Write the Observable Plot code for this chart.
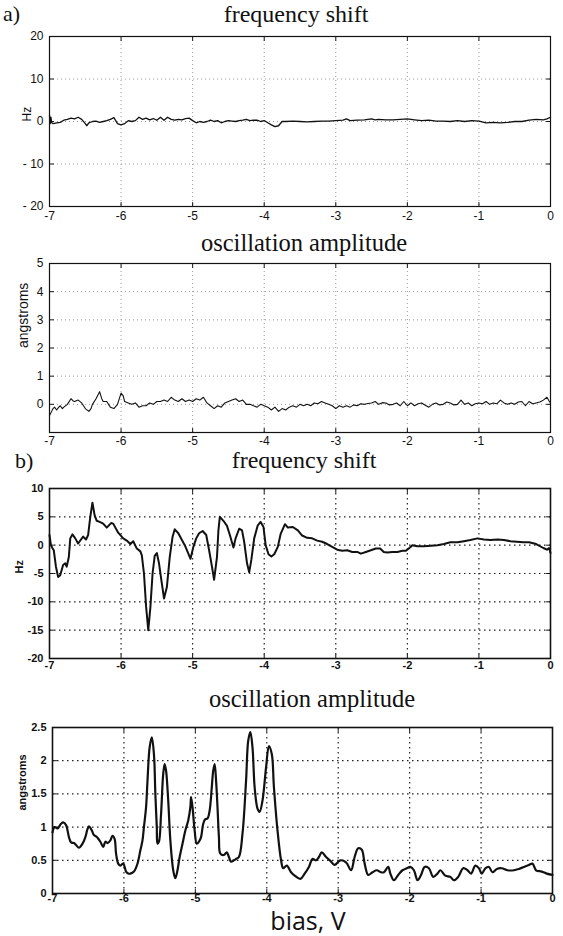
<!DOCTYPE html>
<html><head><meta charset="utf-8">
<script src="https://cdn.jsdelivr.net/npm/d3@7"></script>
<script src="https://cdn.jsdelivr.net/npm/@observablehq/plot@0.6"></script>
<style>
body{margin:0;background:#fff;}
#root{position:relative;width:563px;height:936px;overflow:hidden;background:#fff;}
.t{position:absolute;white-space:nowrap;color:#111;}
.p{position:absolute;left:0;}
.p svg{overflow:visible;}
</style></head><body><div id="root"></div>
<script>
// ---------- data ----------
const xTicks = [-7, -6, -5, -4, -3, -2, -1, 0];
const freqATicks = [-20, -10, 0, 10, 20];
const ampATicks = [0, 1, 2, 3, 4, 5];
const freqBTicks = [-20, -15, -10, -5, 0, 5, 10];
const ampBTicks = [0, 0.5, 1, 1.5, 2, 2.5];

// a) frequency shift (Hz) vs bias (V)
const freqA = [[-7,1.5],[-6.99,-0.5],[-6.98,1.0],[-6.97,-0.3],[-6.95,-0.5],[-6.9,-0.3],[-6.85,-0.2],[-6.8,0.3],[-6.75,0.5],[-6.7,0.8],[-6.65,0.6],[-6.6,1.0],[-6.55,0.5],[-6.5,-0.5],[-6.48,-1.0],[-6.45,-0.3],[-6.4,0],[-6.35,0.1],[-6.3,-0.2],[-6.25,0],[-6.2,0.2],[-6.15,0.5],[-6.1,0.9],[-6.05,-0.5],[-6,-0.8],[-5.95,-0.5],[-5.9,0.2],[-5.85,0],[-5.8,0.2],[-5.75,1.0],[-5.7,0.5],[-5.65,0.8],[-5.6,0.4],[-5.55,0.7],[-5.5,0.3],[-5.45,1.0],[-5.4,0.3],[-5.35,1.0],[-5.3,0.5],[-5.25,0.3],[-5.2,0.5],[-5.15,0.4],[-5.1,0.7],[-5.05,0.8],[-5,0.2],[-4.95,-0.3],[-4.9,0],[-4.85,-0.2],[-4.8,0],[-4.75,0.3],[-4.7,0],[-4.65,0.2],[-4.6,-0.3],[-4.55,0],[-4.5,0.2],[-4.45,0.1],[-4.4,0],[-4.35,0.2],[-4.3,0.3],[-4.25,0.5],[-4.2,0.2],[-4.15,0.3],[-4.1,0.3],[-4.05,0],[-4,0.2],[-3.95,-0.3],[-3.9,-0.8],[-3.85,-1.2],[-3.8,-1.0],[-3.75,0],[-3.7,0],[-3.6,0.1],[-3.5,0],[-3.4,-0.1],[-3.3,0],[-3.2,0.1],[-3.1,0.1],[-3,0.2],[-2.9,0.3],[-2.85,0.6],[-2.8,0.2],[-2.7,0.3],[-2.6,0.4],[-2.5,0.6],[-2.45,0.4],[-2.4,0.5],[-2.3,0.4],[-2.2,0.4],[-2.1,0.5],[-2,0.6],[-1.9,0.4],[-1.8,0.2],[-1.7,0.3],[-1.6,0.1],[-1.5,0.1],[-1.4,0],[-1.3,0.2],[-1.2,0],[-1.1,0.2],[-1,0.1],[-0.9,-0.3],[-0.8,-0.2],[-0.7,-0.3],[-0.6,-0.2],[-0.5,0],[-0.4,0],[-0.3,0.3],[-0.2,0.5],[-0.1,0.4],[-0.05,0.6],[0,1.0]];

// a) oscillation amplitude (angstroms) vs bias (V)
const ampA = [[-7,-0.4],[-6.97,-0.25],[-6.95,-0.15],[-6.93,-0.1],[-6.9,-0.2],[-6.87,-0.1],[-6.85,-0.05],[-6.82,-0.15],[-6.8,-0.1],[-6.75,0],[-6.7,0.2],[-6.67,0.12],[-6.65,0.1],[-6.6,0.15],[-6.55,0.05],[-6.5,-0.15],[-6.45,-0.25],[-6.42,-0.15],[-6.4,0],[-6.35,0.2],[-6.3,0.45],[-6.27,0.2],[-6.25,0.1],[-6.2,0.1],[-6.15,-0.1],[-6.1,-0.15],[-6.05,0],[-6,0.4],[-5.97,0.3],[-5.95,0.1],[-5.9,0.05],[-5.85,0],[-5.8,0.05],[-5.75,-0.1],[-5.7,-0.05],[-5.65,-0.05],[-5.6,0.05],[-5.55,0],[-5.5,0.1],[-5.45,0.1],[-5.4,0.15],[-5.35,0.1],[-5.3,0.25],[-5.25,0.15],[-5.2,0.1],[-5.15,0.2],[-5.1,0.1],[-5.05,0.15],[-5,0.1],[-4.95,0.2],[-4.9,0.15],[-4.85,0.25],[-4.8,0.05],[-4.75,-0.05],[-4.7,-0.15],[-4.65,-0.05],[-4.6,-0.1],[-4.55,0.05],[-4.5,0.1],[-4.45,0.15],[-4.4,0.2],[-4.35,0.1],[-4.3,0.15],[-4.25,0],[-4.2,0],[-4.15,-0.05],[-4.1,-0.1],[-4.05,0],[-4,-0.05],[-3.95,-0.1],[-3.9,-0.2],[-3.85,-0.1],[-3.8,-0.25],[-3.75,-0.15],[-3.7,-0.2],[-3.65,-0.1],[-3.6,-0.05],[-3.55,-0.1],[-3.5,0],[-3.45,-0.05],[-3.4,0],[-3.35,-0.05],[-3.3,0.05],[-3.25,0.02],[-3.2,0.1],[-3.15,0.05],[-3.1,0],[-3.05,-0.05],[-3,-0.15],[-2.95,-0.05],[-2.9,-0.1],[-2.85,-0.05],[-2.8,-0.1],[-2.75,-0.02],[-2.7,-0.05],[-2.65,0.02],[-2.6,0],[-2.55,0.03],[-2.5,0.05],[-2.45,0.1],[-2.4,0],[-2.35,0.06],[-2.3,0.05],[-2.25,-0.02],[-2.2,0],[-2.15,0.05],[-2.1,-0.05],[-2.05,0.1],[-2,-0.05],[-1.95,0.05],[-1.9,-0.05],[-1.85,0.02],[-1.8,0.05],[-1.75,-0.03],[-1.7,-0.1],[-1.65,0],[-1.6,0.05],[-1.55,-0.02],[-1.5,0],[-1.45,0.08],[-1.4,0.05],[-1.35,-0.02],[-1.3,0],[-1.25,0.15],[-1.2,0],[-1.15,0.05],[-1.1,-0.05],[-1.05,0.02],[-1,0.05],[-0.95,0.02],[-0.9,0.1],[-0.85,0],[-0.8,0.05],[-0.75,0.02],[-0.7,0.15],[-0.65,0.05],[-0.6,0],[-0.55,0.05],[-0.5,0],[-0.45,0.08],[-0.4,0.1],[-0.35,-0.05],[-0.3,0.1],[-0.25,0.02],[-0.2,0.05],[-0.15,0.08],[-0.1,0.15],[-0.05,0.25],[-0.02,0.12],[0,0.05]];

// b) frequency shift (Hz) vs bias (V)
const freqB = [[-7,1.8],[-6.98,0],[-6.96,-0.5],[-6.94,-0.9],[-6.91,-3.8],[-6.88,-5.6],[-6.85,-5.3],[-6.81,-3.5],[-6.78,-3.2],[-6.76,-3.8],[-6.73,-2.1],[-6.71,1.2],[-6.68,1.9],[-6.64,1.2],[-6.6,0.3],[-6.56,1.0],[-6.53,1.5],[-6.49,1.0],[-6.46,1.8],[-6.43,5.0],[-6.4,7.5],[-6.37,5.3],[-6.34,4.3],[-6.3,4.1],[-6.25,3.8],[-6.2,3.1],[-6.14,3.9],[-6.11,3.8],[-6.04,2.2],[-5.97,1.2],[-5.91,0.7],[-5.87,0.2],[-5.83,0.7],[-5.78,-0.6],[-5.73,-1.1],[-5.71,-1.8],[-5.68,-5],[-5.65,-10.9],[-5.62,-15],[-5.59,-10.9],[-5.56,-5],[-5.53,-1.9],[-5.5,-1.4],[-5.47,-3.2],[-5.43,-6.8],[-5.4,-9.4],[-5.36,-7.4],[-5.32,-2.1],[-5.28,1.5],[-5.25,2.8],[-5.2,2.1],[-5.15,0.9],[-5.11,0],[-5.06,-1.5],[-5.03,-2.4],[-4.99,-0.3],[-4.95,1.2],[-4.91,2.1],[-4.86,2.5],[-4.81,1.8],[-4.77,-0.9],[-4.73,-3.8],[-4.7,-6.1],[-4.66,-2.1],[-4.64,2.6],[-4.62,5.0],[-4.57,4.3],[-4.52,3.4],[-4.48,1.8],[-4.43,-0.4],[-4.4,1.2],[-4.35,2.9],[-4.31,2.6],[-4.28,0.6],[-4.24,-3.2],[-4.21,-4.8],[-4.18,-2.6],[-4.14,1.2],[-4.09,3.5],[-4.05,4.1],[-4.01,3.2],[-3.98,0],[-3.94,-1.6],[-3.9,-2.0],[-3.86,-1.6],[-3.81,-0.3],[-3.77,2.0],[-3.71,3.7],[-3.67,3.1],[-3.6,3.2],[-3.53,2.6],[-3.47,1.7],[-3.4,1.3],[-3.33,1.2],[-3.26,0.8],[-3.19,0.6],[-3.12,0.2],[-3.05,-0.3],[-2.98,-0.8],[-2.91,-1.0],[-2.84,-0.9],[-2.77,-1.2],[-2.7,-1.2],[-2.65,-1.5],[-2.58,-1.2],[-2.51,-0.9],[-2.44,-0.6],[-2.38,-0.6],[-2.33,-1.2],[-2.28,-1.3],[-2.21,-1.2],[-2.14,-1.2],[-2.07,-1.0],[-2.02,-1.0],[-1.98,-0.6],[-1.93,0],[-1.86,-0.2],[-1.77,-0.2],[-1.67,-0.1],[-1.58,0],[-1.49,0.2],[-1.4,0.5],[-1.3,0.5],[-1.21,0.7],[-1.12,0.9],[-1.02,1.2],[-0.93,1.0],[-0.84,0.9],[-0.74,1.0],[-0.65,0.9],[-0.56,0.7],[-0.47,0.6],[-0.38,0.5],[-0.3,0.5],[-0.2,0.2],[-0.1,-0.5],[-0.05,-0.8],[-0.02,-0.5],[0,-1.4]];

// b) oscillation amplitude (angstroms) vs bias (V)
const ampB = [[-7,0.92],[-6.97,1.0],[-6.93,0.98],[-6.88,1.05],[-6.85,1.07],[-6.81,1.03],[-6.77,0.85],[-6.74,0.77],[-6.7,0.76],[-6.67,0.73],[-6.63,0.69],[-6.58,0.75],[-6.54,0.85],[-6.51,0.97],[-6.49,1.01],[-6.45,0.95],[-6.42,0.88],[-6.39,0.86],[-6.37,0.84],[-6.33,0.78],[-6.29,0.7],[-6.26,0.78],[-6.23,0.76],[-6.19,0.8],[-6.16,0.87],[-6.13,0.82],[-6.11,0.6],[-6.08,0.45],[-6.05,0.42],[-6.01,0.45],[-5.97,0.33],[-5.94,0.3],[-5.91,0.3],[-5.86,0.33],[-5.81,0.45],[-5.77,0.65],[-5.74,0.8],[-5.72,1.0],[-5.69,1.3],[-5.67,1.7],[-5.64,2.2],[-5.61,2.35],[-5.58,2.1],[-5.56,1.5],[-5.54,1.0],[-5.53,0.75],[-5.51,0.78],[-5.48,1.2],[-5.45,1.8],[-5.43,1.95],[-5.41,1.85],[-5.38,1.4],[-5.35,0.8],[-5.31,0.35],[-5.28,0.23],[-5.25,0.35],[-5.22,0.55],[-5.18,0.75],[-5.14,0.95],[-5.1,1.1],[-5.07,1.3],[-5.06,1.45],[-5.04,1.3],[-5.01,0.95],[-4.98,0.75],[-4.95,0.78],[-4.92,0.85],[-4.89,1.05],[-4.86,1.12],[-4.83,1.13],[-4.8,1.25],[-4.77,1.6],[-4.75,1.85],[-4.73,1.95],[-4.71,1.7],[-4.69,1.3],[-4.67,0.85],[-4.65,0.6],[-4.6,0.58],[-4.56,0.62],[-4.53,0.55],[-4.5,0.48],[-4.46,0.5],[-4.43,0.52],[-4.39,0.55],[-4.34,0.9],[-4.29,1.7],[-4.26,2.3],[-4.23,2.43],[-4.2,2.2],[-4.17,1.6],[-4.13,1.28],[-4.1,1.23],[-4.06,1.4],[-4.01,1.9],[-3.97,2.22],[-3.93,2.1],[-3.9,1.6],[-3.85,0.95],[-3.8,0.5],[-3.77,0.38],[-3.72,0.42],[-3.66,0.32],[-3.61,0.27],[-3.53,0.22],[-3.47,0.3],[-3.41,0.4],[-3.36,0.52],[-3.31,0.5],[-3.27,0.55],[-3.23,0.62],[-3.17,0.55],[-3.1,0.48],[-3.05,0.43],[-2.97,0.5],[-2.89,0.47],[-2.82,0.35],[-2.77,0.55],[-2.72,0.68],[-2.67,0.66],[-2.63,0.45],[-2.58,0.28],[-2.52,0.32],[-2.46,0.35],[-2.4,0.32],[-2.36,0.32],[-2.3,0.4],[-2.27,0.3],[-2.22,0.2],[-2.16,0.28],[-2.1,0.35],[-2.04,0.38],[-1.99,0.4],[-1.94,0.35],[-1.89,0.2],[-1.84,0.28],[-1.79,0.4],[-1.73,0.38],[-1.67,0.25],[-1.61,0.3],[-1.57,0.35],[-1.5,0.27],[-1.43,0.25],[-1.38,0.2],[-1.32,0.25],[-1.25,0.38],[-1.19,0.35],[-1.14,0.3],[-1.08,0.42],[-1.03,0.38],[-0.99,0.3],[-0.94,0.38],[-0.89,0.4],[-0.84,0.32],[-0.78,0.37],[-0.71,0.38],[-0.63,0.35],[-0.54,0.35],[-0.47,0.37],[-0.4,0.4],[-0.33,0.43],[-0.28,0.45],[-0.23,0.35],[-0.15,0.33],[-0.08,0.3],[0,0.28]];

// ---------- drawing ----------
const root = document.getElementById("root");
const tickShape = {draw(ctx, l) { ctx.moveTo(0, 0); ctx.lineTo(0, -l); }};

function panel(o) {
  const data = o.series.map(([x, y]) => ({x, y}));
  const innerX = xTicks.slice(1, -1);
  const innerY = o.yTicks.filter(t => t > o.yDomain[0] && t < o.yDomain[1]);
  const tk = {stroke: "#111", strokeWidth: 1, length: 4, anchor: "start", shape: tickShape};
  const svg = Plot.plot({
    width: 563, height: o.height,
    marginTop: o.mt, marginBottom: o.mb, marginLeft: o.ml, marginRight: o.mr,
    style: {fontFamily: "'Liberation Sans', Arial, sans-serif", fontSize: o.tickFont + "px", fontWeight: o.tickWeight, color: "#111", background: "transparent"},
    x: {domain: [-7, 0], ticks: xTicks, tickFormat: d => String(d), tickSize: 0, tickPadding: o.xPad, label: null},
    y: {domain: o.yDomain, ticks: o.yTicks, tickFormat: o.yFmt, tickSize: 0, tickPadding: 6, label: null},
    marks: [
      Plot.gridX(innerX, {stroke: o.gridColor, strokeOpacity: 1, strokeWidth: o.gridW, strokeDasharray: o.gridDash}),
      Plot.gridY(innerY, {stroke: o.gridColor, strokeOpacity: 1, strokeWidth: o.gridW, strokeDasharray: o.gridDash}),
      Plot.line(data, {x: "x", y: "y", stroke: "#111", strokeWidth: o.lineW, curve: o.curve, strokeLinejoin: "round"}),
      Plot.vector(xTicks, {...tk, x: d => d, frameAnchor: "bottom", rotate: 0}),
      Plot.vector(xTicks, {...tk, x: d => d, frameAnchor: "top", rotate: 180}),
      Plot.vector(o.yTicks, {...tk, y: d => d, frameAnchor: "left", rotate: 90}),
      Plot.vector(o.yTicks, {...tk, y: d => d, frameAnchor: "right", rotate: -90}),
      Plot.frame({stroke: "#111", strokeWidth: o.frameW}),
      Plot.text([o.ylabel], {text: d => d, frameAnchor: "left", dx: o.ylabelDx, rotate: -90,
        fontSize: o.ylabelSize, fontWeight: o.ylabelWeight, fill: "#111"})
    ]
  });
  const div = document.createElement("div");
  div.className = "p";
  div.style.top = o.top + "px";
  div.appendChild(svg);
  root.appendChild(div);
}

panel({top: 0, height: 230, mt: 36, mb: 24, ml: 49, mr: 13, series: freqA,
  yDomain: [-20, 20], yTicks: freqATicks, yFmt: d => d < 0 ? "- " + (-d) : String(d),
  ylabel: "Hz", ylabelDx: -22, ylabelSize: 12, ylabelWeight: "normal",
  lineW: 1.3, curve: "linear", gridColor: "#999", gridW: 1, gridDash: "1,3", frameW: 1.2,
  tickFont: 12, tickWeight: "normal", xPad: 5});

panel({top: 230, height: 220, mt: 33, mb: 18, ml: 49, mr: 13, series: ampA,
  yDomain: [-1, 5], yTicks: ampATicks, yFmt: d => String(d),
  ylabel: "angstroms", ylabelDx: -26, ylabelSize: 14, ylabelWeight: "normal",
  lineW: 1.1, curve: "linear", gridColor: "#999", gridW: 1, gridDash: "1,3", frameW: 1.2,
  tickFont: 12, tickWeight: "normal", xPad: 4});

panel({top: 470, height: 210, mt: 18, mb: 22, ml: 49, mr: 13, series: freqB,
  yDomain: [-20, 10], yTicks: freqBTicks, yFmt: d => String(d),
  ylabel: "Hz", ylabelDx: -30, ylabelSize: 11, ylabelWeight: "bold",
  lineW: 2, curve: "linear", gridColor: "#222", gridW: 1.2, gridDash: "1.5,3.5", frameW: 1.6,
  tickFont: 11, tickWeight: "bold", xPad: 3});

panel({top: 710, height: 200, mt: 17, mb: 17, ml: 52, mr: 11, series: ampB,
  yDomain: [0, 2.5], yTicks: ampBTicks, yFmt: d => String(d),
  ylabel: "angstroms", ylabelDx: -30, ylabelSize: 11, ylabelWeight: "bold",
  lineW: 2.2, curve: "catmull-rom", gridColor: "#222", gridW: 1.2, gridDash: "1.5,3.5", frameW: 1.6,
  tickFont: 11, tickWeight: "bold", xPad: 1});

// ---------- titles ----------
// asc/desc: font ascent and descent in em, used to place the text by its baseline
function label(text, {cx, left, baseline, size, family, asc, desc, lh}) {
  const d = document.createElement("div");
  d.className = "t";
  d.textContent = text;
  d.style.fontFamily = family;
  d.style.fontSize = size + "px";
  d.style.lineHeight = lh + "px";
  const top = baseline - ((lh - (asc + desc) * size) / 2 + asc * size);
  d.style.top = top + "px";
  if (cx != null) { d.style.left = cx + "px"; d.style.transform = "translateX(-50%)"; }
  else d.style.left = left + "px";
  root.appendChild(d);
}
const serif = {family: "'Liberation Serif', 'Times New Roman', serif", asc: 0.891, desc: 0.216};
const sans = {family: "'Open Sans', 'Noto Sans', sans-serif", asc: 1.069, desc: 0.293};
label("a)", {...serif, left: 3, baseline: 21, size: 22, lh: 22});
label("frequency shift", {...serif, cx: 296, baseline: 22, size: 24, lh: 24});
label("oscillation amplitude", {...serif, cx: 304, baseline: 251, size: 24.5, lh: 24});
label("b)", {...serif, left: 15, baseline: 468, size: 22, lh: 22});
label("frequency shift", {...serif, cx: 304, baseline: 468, size: 24, lh: 24});
label("oscillation amplitude", {...serif, cx: 312, baseline: 707, size: 24.5, lh: 24});
label("bias, V", {...sans, cx: 308, baseline: 930, size: 25, lh: 20});
</script></body></html>
